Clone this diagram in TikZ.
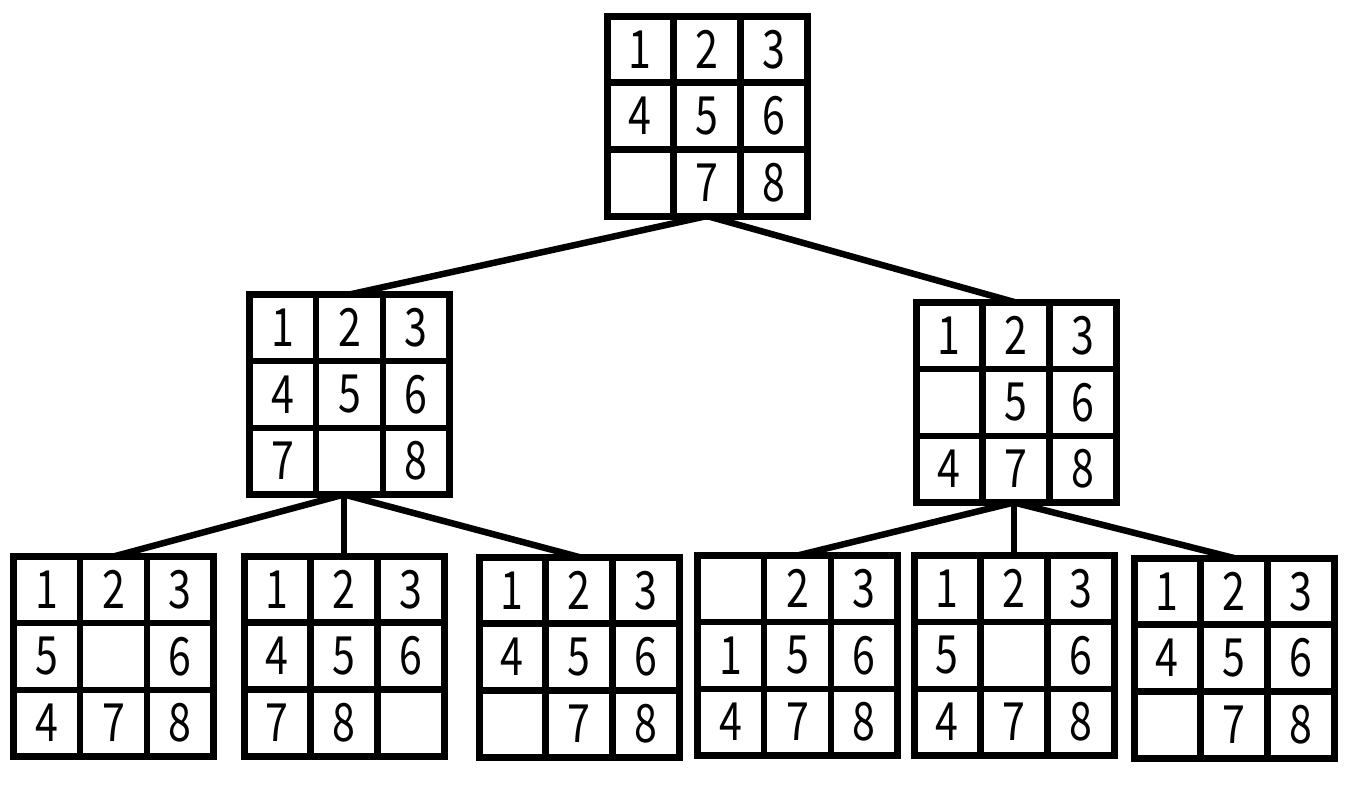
\documentclass[tikz,border=0pt]{standalone}
\usepackage{fontspec}
\newfontfamily\digitfont{Noto Sans CJK JP}

\tikzset{
  board/.style={draw, line width=0.07cm, rectangle, minimum width=2cm, minimum height=2cm, inner sep=0pt, outer sep=0pt},
  gridline/.style={line width=0.065cm},
  link/.style={line width=0.065cm},
  tile/.style={font=\digitfont\fontsize{15}{17}\selectfont, inner sep=0pt}
}

% one 3x3 board: name, centre, the nine tiles row by row (empty = blank)
\newcommand{\board}[3]{%
  \node[board] (#1) at (#2) {};
  \begin{scope}[shift={(#2)}]
    \draw[gridline] (-1/3,-1) -- (-1/3,1);
    \draw[gridline] (1/3,-1) -- (1/3,1);
    \draw[gridline] (-1,-1/3) -- (1,-1/3);
    \draw[gridline] (-1,1/3) -- (1,1/3);
    \foreach \v [count=\i from 0] in {#3} {
      \pgfmathtruncatemacro\col{mod(\i,3)}
      \pgfmathtruncatemacro\row{\i/3}
      \node[tile] at ({-2/3+\col*2/3},{2/3-\row*2/3}) {\scalebox{0.78}[1]{\v}};
    }
  \end{scope}
}

\begin{document}
\begin{tikzpicture}

      \useasboundingbox (0,0) rectangle (13.55,7.84);

      % Root
      \board{root}{7.07,6.68}{1,2,3,4,5,6,,7,8}

      % Second level
      \board{left}{3.495,3.895}{1,2,3,4,5,6,7,,8}
      \board{right}{10.16,3.815}{1,2,3,,5,6,4,7,8}

      % Third level
      \board{ll}{1.135,1.275}{1,2,3,5,,6,4,7,8}
      \board{lm}{3.44,1.28}{1,2,3,4,5,6,7,8,}
      \board{lr}{5.79,1.27}{1,2,3,4,5,6,,7,8}
      \board{rl}{7.975,1.285}{,2,3,1,5,6,4,7,8}
      \board{rm}{10.14,1.285}{1,2,3,5,,6,4,7,8}
      \board{rr}{12.34,1.26}{1,2,3,4,5,6,,7,8}

      % Forks under the second level
      \coordinate (lfork) at (lm.north |- left.south);
      \coordinate (rfork) at (rm.north |- right.south);

      % Edges
      \draw[link] (root.south) -- (left.north);
      \draw[link] (root.south) -- (right.north);

      \draw[link] (lfork) -- (ll.north);
      \draw[link] (lfork) -- (lm.north);
      \draw[link] (lfork) -- (lr.north);

      \draw[link] (rfork) -- (rl.north);
      \draw[link] (rfork) -- (rm.north);
      \draw[link] (rfork) -- (rr.north);

\end{tikzpicture}
\end{document}
